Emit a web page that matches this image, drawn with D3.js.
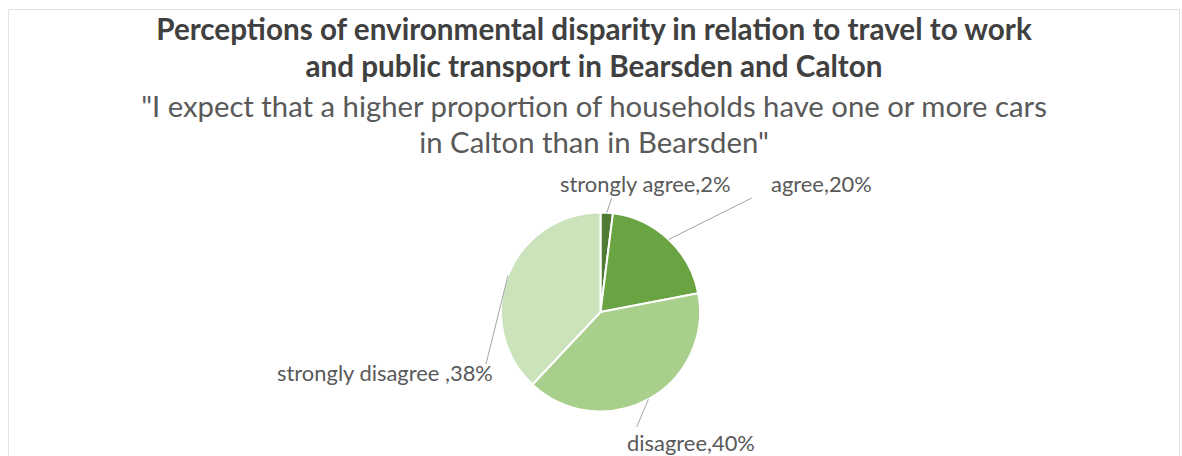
<!DOCTYPE html>
<html>
<head>
<meta charset="utf-8">
<script src="https://cdn.jsdelivr.net/npm/d3@7"></script>
<style>
  html, body { margin: 0; padding: 0; background: #ffffff; }
  svg { display: block; }
</style>
</head>
<body>
<svg id="chart" width="1182" height="456"></svg>
<script>
// ---- data ----
const categories = ["strongly agree", "agree", "disagree", "strongly disagree "];
const values = [2, 20, 40, 38];
const labelTexts = ["strongly agree,2%", "agree,20%", "disagree,40%", "strongly disagree ,38%"];
const titleLines = ["Perceptions of environmental disparity in relation to travel to work",
                    "and public transport in Bearsden and Calton"];
const subtitleLines = ["\"I expect that a higher proportion of households have one or more cars",
                       "in Calton than in Bearsden\""];

// ---- style / layout ----
const colors = ["#507b35", "#6aa442", "#a8cf8c", "#cbe3bb"];
const W = 1182, H = 456;
const cx = 600.5, cy = 312, R = 99.5;
const centerX = 594;
const labelPos = [ // text anchor start x, baseline y, leader end x, y
  {x: 560, y: 192, lx: 611.7, ly: 198},
  {x: 771, y: 192, lx: 751.7, ly: 198},
  {x: 627, y: 451, lx: 636.7, ly: 427},
  {x: 277, y: 381, lx: 486, ly: 364}
];

const svg = d3.select("#chart");

// chart border
svg.append("rect")
  .attr("x", 8.5).attr("y", 9.5).attr("width", 1171).attr("height", 460)
  .attr("fill", "#ffffff").attr("stroke", "#e4e4e4").attr("stroke-width", 1);

function fit(sel, target) {
  const base = parseFloat(sel.attr("font-size"));
  const w = sel.node().getComputedTextLength();
  const fs = base * target / w;
  sel.attr("font-size", fs);
  return fs;
}

const FONT = "Lato, 'Open Sans', sans-serif";

// title
const t1 = svg.append("text").attr("x", centerX).attr("y", 40)
  .attr("text-anchor", "middle").attr("font-family", FONT).attr("font-weight", "bold")
  .attr("font-size", 20).attr("fill", "#404040").text(titleLines[0]);
const tfs = fit(t1, 876);
svg.append("text").attr("x", centerX).attr("y", 76.7)
  .attr("text-anchor", "middle").attr("font-family", FONT).attr("font-weight", "bold")
  .attr("font-size", tfs).attr("fill", "#404040").text(titleLines[1]);

const s1 = svg.append("text").attr("x", centerX).attr("y", 117)
  .attr("text-anchor", "middle").attr("font-family", FONT)
  .attr("font-size", 20).attr("fill", "#595959").text(subtitleLines[0]);
const sfs = fit(s1, 906);
svg.append("text").attr("x", centerX).attr("y", 153)
  .attr("text-anchor", "middle").attr("font-family", FONT)
  .attr("font-size", sfs).attr("fill", "#595959").text(subtitleLines[1]);

// pie
const pie = d3.pie().sort(null).value(d => d)(values);
const arc = d3.arc().innerRadius(0).outerRadius(R);
const g = svg.append("g").attr("transform", `translate(${cx},${cy})`);
g.selectAll("path").data(pie).join("path")
  .attr("d", arc)
  .attr("fill", (d, i) => colors[i])
  .attr("stroke", "#ffffff").attr("stroke-width", 2).attr("stroke-linejoin", "round");

// leader lines
pie.forEach((d, i) => {
  const a = (d.startAngle + d.endAngle) / 2;
  const px = cx + R * Math.sin(a), py = cy - R * Math.cos(a);
  svg.append("line")
    .attr("x1", px).attr("y1", py)
    .attr("x2", labelPos[i].lx).attr("y2", labelPos[i].ly)
    .attr("stroke", "#a6a6a6").attr("stroke-width", 1);
});

// labels
const lab = svg.append("g").selectAll("text").data(labelTexts).join("text")
  .attr("x", (d, i) => labelPos[i].x).attr("y", (d, i) => labelPos[i].y)
  .attr("font-family", FONT).attr("font-size", 15).attr("fill", "#595959")
  .text(d => d);
const lfs = fit(d3.select(lab.nodes()[3]), 216);
lab.attr("font-size", lfs);
</script>
</body>
</html>
